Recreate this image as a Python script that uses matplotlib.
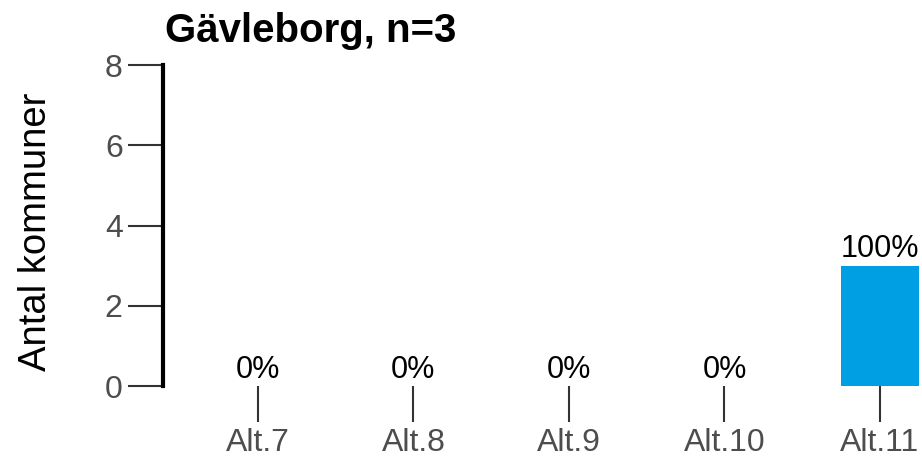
import matplotlib.pyplot as plt

# data
categories = ["Alt.7", "Alt.8", "Alt.9", "Alt.10", "Alt.11"]
counts = [0, 0, 0, 0, 3]
pct_labels = ["0%", "0%", "0%", "0%", "100%"]
yticks = [0, 2, 4, 6, 8]

plt.rcParams['font.family'] = ['Liberation Sans', 'DejaVu Sans']

fig = plt.figure(figsize=(9.22, 4.61), dpi=100)
ax = fig.add_axes([163 / 922, 75 / 461, 1 - 163 / 922, 321 / 461])

x = range(len(categories))
ax.bar(x, counts, width=0.5, color="#009FE3")

for xi, c, lab in zip(x, counts, pct_labels):
    ax.text(xi, c + 0.03, lab, ha="center", va="bottom", fontsize=22, color="black")

ax.set_xlim(-0.61, 4.27)
ax.set_ylim(0, 8)
ax.set_yticks(yticks)
ax.set_xticks(list(x))
ax.set_xticklabels(categories)

for s in ["top", "right", "bottom"]:
    ax.spines[s].set_visible(False)
ax.spines["left"].set_linewidth(3)
ax.spines["left"].set_color("black")

ax.tick_params(axis="y", length=25, width=1.5, color="#333333", labelsize=23,
               labelcolor="#4d4d4d", pad=4)
ax.tick_params(axis="x", length=26, width=1.5, color="#333333", labelsize=23,
               labelcolor="#4d4d4d", pad=4)

ax.set_ylabel("Antal kommuner", fontsize=27.5, color="black")
ax.yaxis.set_label_coords(-0.143, 0.48)

fig.text(165 / 922, 1 - 42 / 461, "Gävleborg, n=3", fontsize=29, fontweight="bold",
         ha="left", va="baseline")

fig.savefig("out.png", dpi=100)
